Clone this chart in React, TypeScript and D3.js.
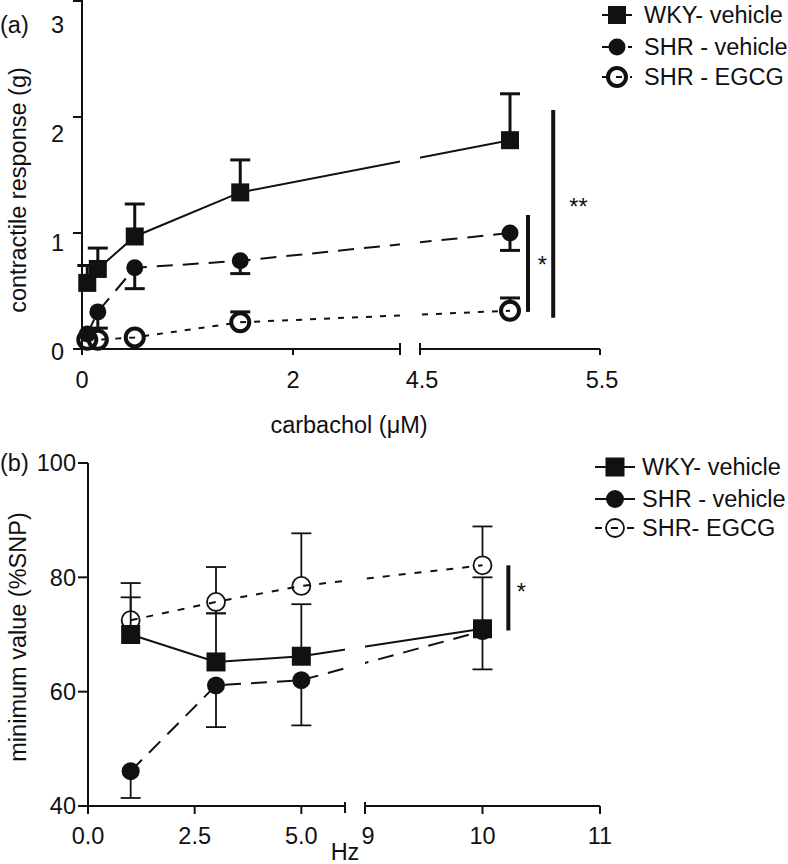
import React from "react";
import * as d3 from "d3";

const W = 788;
const H = 864;
const FONT = "'Liberation Sans', Arial, Helvetica, sans-serif";
const FS = 23.5;

// ---- panel (a): carbachol concentration-response ----
const carbachol = [0.05, 0.15, 0.5, 1.5, 5.0];
const wkyA = [0.57, 0.69, 0.97, 1.35, 1.8];
const wkyAUp = [0.15, 0.18, 0.28, 0.28, 0.4];
const shrA = [0.13, 0.32, 0.7, 0.76, 1.0];
const shrADown = [0, 0.14, 0.18, 0.11, 0.15];
const egcgA = [0.08, 0.08, 0.1, 0.23, 0.33];
const egcgAUp = [0, 0, 0, 0.09, 0.11];
const yTicksA = [0, 1, 2, 3];
const xTicksA = [0, 2, 4.5, 5.5];
const legendA = ["WKY- vehicle", "SHR - vehicle", "SHR - EGCG"];

// ---- panel (b): frequency response ----
const hz = [1, 3, 5, 10];
const wkyB = [70, 65.2, 66.2, 71];
const wkyBUp = [9, 8.5, 9.1, 9];
const wkyBDown = [0, 0, 0, 7.1];
const shrB = [46.1, 61.1, 62.0, 70.6];
const shrBDown = [4.7, 7.3, 7.9, 0];
const egcgB = [72.5, 75.7, 78.5, 82.1];
const egcgBUp = [4, 6.1, 9.2, 6.8];
const egcgBDown = [0, 2, 0, 0];
const yTicksB = [40, 60, 80, 100];
const xTicksB = [0, 2.5, 5, 9, 10, 11];
const legendB = ["WKY- vehicle", "SHR - vehicle", "SHR- EGCG"];

const zeros = (n: number) => new Array(n).fill(0);

// scale with a gap in the x axis
function broken(lo: number[], loR: number[], hi: number[], hiR: number[]) {
  const a = d3.scaleLinear().domain(lo).range(loR);
  const b = d3.scaleLinear().domain(hi).range(hiR);
  return (v: number) => (v <= lo[1] ? a(v) : b(v));
}

// panel (a) scales
const xA = broken([0, 3], [82, 398.5], [4.5, 5.5], [420, 600]);
const yA = d3.scaleLinear().domain([0, 3]).range([349, 1]);
const yLabA = d3.scaleLinear().domain([0, 3]).range([352, 25]);

// panel (b) scales
const xB = broken([0, 6], [88, 344], [9, 11], [365, 600]);
const yB = d3.scaleLinear().domain([40, 100]).range([806, 463]);

type Marker = "square" | "filled" | "open";

function Mark({ type, x, y, size, sw }: { type: Marker; x: number; y: number; size: number; sw: number }) {
  if (type === "square")
    return <rect x={x - size} y={y - size} width={size * 2} height={size * 2} fill="#111" />;
  if (type === "filled") return <circle cx={x} cy={y} r={size} fill="#111" />;
  return <circle cx={x} cy={y} r={size} fill="none" stroke="#111" strokeWidth={sw} />;
}

type Series = {
  vals: number[];
  up: number[];
  down: number[];
  marker: Marker;
  dash?: string;
};

function Panel(props: {
  id: string;
  xs: number[];
  series: Series[];
  x: (v: number) => number;
  y: d3.ScaleLinear<number, number>;
  gap: number[];
  lineW: number;
  barW: number;
  markSize: Record<Marker, number>;
  openSW: number;
}) {
  const { id, xs, series, x, y, gap, lineW, barW, markSize, openSW } = props;
  const line = d3
    .line<number>()
    .x((_, i) => x(xs[i]))
    .y((d) => y(d));
  return (
    <g>
      <clipPath id={id}>
        <rect x={0} y={0} width={gap[0]} height={H} />
        <rect x={gap[1]} y={0} width={W - gap[1]} height={H} />
      </clipPath>
      <g clipPath={`url(#${id})`}>
        {series.map((s, k) => (
          <path key={k} d={line(s.vals) || ""} fill="none" stroke="#111" strokeWidth={lineW} strokeDasharray={s.dash} />
        ))}
      </g>
      {series.map((s, k) =>
        s.vals.map((v, i) => {
          const px = x(xs[i]);
          const edge = s.marker === "open" ? markSize.open : 0;
          const out: any[] = [];
          if (s.up[i] > 0) {
            const t = y(v + s.up[i]);
            out.push(<line key={`u${i}`} x1={px} x2={px} y1={y(v) - edge} y2={t} stroke="#111" strokeWidth={barW} />);
            out.push(<line key={`uc${i}`} x1={px - 10} x2={px + 10} y1={t} y2={t} stroke="#111" strokeWidth={barW} />);
          }
          if (s.down[i] > 0) {
            const b = y(v - s.down[i]);
            out.push(<line key={`d${i}`} x1={px} x2={px} y1={y(v) + edge} y2={b} stroke="#111" strokeWidth={barW} />);
            out.push(<line key={`dc${i}`} x1={px - 10} x2={px + 10} y1={b} y2={b} stroke="#111" strokeWidth={barW} />);
          }
          return <g key={`e${k}-${i}`}>{out}</g>;
        })
      )}
      {series.map((s, k) =>
        s.vals.map((v, i) => (
          <Mark key={`m${k}-${i}`} type={s.marker} x={x(xs[i])} y={y(v)} size={markSize[s.marker]} sw={openSW} />
        ))
      )}
    </g>
  );
}

function Legend(props: {
  labels: string[];
  series: Series[];
  x0: number;
  x1: number;
  tx: number;
  ys: number[];
  lineW: number;
  markSize: Record<Marker, number>;
  openSW: number;
}) {
  const { labels, series, x0, x1, tx, ys, lineW, markSize, openSW } = props;
  return (
    <g>
      {labels.map((lab, i) => (
        <g key={lab}>
          <line x1={x0} x2={x1} y1={ys[i]} y2={ys[i]} stroke="#111" strokeWidth={lineW} strokeDasharray={series[i].dash} />
          <Mark type={series[i].marker} x={(x0 + x1) / 2} y={ys[i]} size={markSize[series[i].marker]} sw={openSW} />
          <text x={tx} y={ys[i]} dy="0.35em" fontSize={FS} fill="#111">
            {lab}
          </text>
        </g>
      ))}
    </g>
  );
}

export default function App() {
  const seriesA: Series[] = [
    { vals: wkyA, up: wkyAUp, down: zeros(5), marker: "square" },
    { vals: shrA, up: zeros(5), down: shrADown, marker: "filled", dash: "16,10" },
    { vals: egcgA, up: egcgAUp, down: zeros(5), marker: "open", dash: "6,8" },
  ];
  const seriesB: Series[] = [
    { vals: wkyB, up: wkyBUp, down: wkyBDown, marker: "square" },
    { vals: shrB, up: zeros(4), down: shrBDown, marker: "filled", dash: "16,10" },
    { vals: egcgB, up: egcgBUp, down: egcgBDown, marker: "open", dash: "7,9" },
  ];
  const sizeA = { square: 9, filled: 8.5, open: 9 };
  const sizeB = { square: 9.5, filled: 9, open: 9 };
  const fmtB = (v: number) => (v < 6 ? d3.format(".1f")(v) : String(v));

  return (
    <svg width={W} height={H} style={{ position: "absolute", left: 0, top: 0, background: "#fff" }} fontFamily={FONT}>
      {/* ================= panel (a) ================= */}
      <text x={0} y={25} dy="0.35em" fontSize={FS} fill="#111">(a)</text>
      <text transform={`translate(18,190) rotate(-90)`} textAnchor="middle" dy="0.35em" fontSize={FS} fill="#111">
        contractile response (g)
      </text>
      {/* y axis */}
      <line x1={82} x2={82} y1={yA(3) - 1} y2={yA(0)} stroke="#111" strokeWidth={2} />
      {yTicksA.map((t) => (
        <g key={t}>
          <line x1={73} x2={82} y1={yA(t)} y2={yA(t)} stroke="#111" strokeWidth={2} />
          <text x={64} y={yLabA(t)} dy="0.35em" textAnchor="end" fontSize={FS} fill="#111">{t}</text>
        </g>
      ))}
      {/* x axis with break */}
      <line x1={82} x2={400} y1={yA(0)} y2={yA(0)} stroke="#111" strokeWidth={2} />
      <line x1={420} x2={600} y1={yA(0)} y2={yA(0)} stroke="#111" strokeWidth={2} />
      <line x1={400} x2={400} y1={yA(0) - 6} y2={yA(0) + 6} stroke="#111" strokeWidth={2} />
      <line x1={420} x2={420} y1={yA(0) - 6} y2={yA(0) + 6} stroke="#111" strokeWidth={2} />
      {xTicksA.map((t) => (
        <g key={t}>
          <line x1={xA(t)} x2={xA(t)} y1={yA(0)} y2={yA(0) + 6} stroke="#111" strokeWidth={2} />
          <text x={xA(t) + (t > 3 ? 2 : 0)} y={380} dy="0.35em" textAnchor="middle" fontSize={FS} fill="#111">{t}</text>
        </g>
      ))}
      <text x={349} y={425} dy="0.35em" textAnchor="middle" fontSize={FS} fill="#111">carbachol (μM)</text>

      <Panel id="clipA" xs={carbachol} series={seriesA} x={xA} y={yA} gap={[400, 420]} lineW={2} barW={3} markSize={sizeA} openSW={4} />

      {/* significance */}
      <line x1={xA(5.1)} x2={xA(5.1)} y1={yA(1.155)} y2={yA(0.32)} stroke="#111" strokeWidth={4} />
      <text x={xA(5.18)} y={yA(0.78)} dy="0.6em" textAnchor="middle" fontSize={FS} fill="#111">*</text>
      <line x1={xA(5.24)} x2={xA(5.24)} y1={yA(2.06)} y2={yA(0.27)} stroke="#111" strokeWidth={4} />
      <text x={xA(5.38)} y={yA(1.28)} dy="0.6em" textAnchor="middle" fontSize={FS} fill="#111">**</text>

      <Legend labels={legendA} series={seriesA} x0={602} x1={632} tx={644} ys={[15, 47, 77]} lineW={2} markSize={sizeA} openSW={4} />

      {/* ================= panel (b) ================= */}
      <text x={0} y={463} dy="0.35em" fontSize={FS} fill="#111">(b)</text>
      <text transform={`translate(18,637) rotate(-90)`} textAnchor="middle" dy="0.35em" fontSize={FS} fill="#111">
        minimum value (%SNP)
      </text>
      <line x1={88} x2={88} y1={yB(100)} y2={yB(40)} stroke="#111" strokeWidth={2} />
      {yTicksB.map((t) => (
        <g key={t}>
          <line x1={78} x2={88} y1={yB(t)} y2={yB(t)} stroke="#111" strokeWidth={2} />
          <text x={76} y={yB(t)} dy="0.35em" textAnchor="end" fontSize={FS} fill="#111">{t}</text>
        </g>
      ))}
      <line x1={88} x2={345} y1={yB(40)} y2={yB(40)} stroke="#111" strokeWidth={2} />
      <line x1={365} x2={600} y1={yB(40)} y2={yB(40)} stroke="#111" strokeWidth={2} />
      <line x1={345} x2={345} y1={yB(40) - 4} y2={yB(40) + 7} stroke="#111" strokeWidth={2} />
      <line x1={365} x2={365} y1={yB(40) - 4} y2={yB(40) + 7} stroke="#111" strokeWidth={2} />
      {xTicksB.map((t) => (
        <g key={t}>
          <line x1={xB(t)} x2={xB(t)} y1={yB(40)} y2={yB(40) + 8} stroke="#111" strokeWidth={2} />
          <text x={xB(t) + (t === 9 ? 3 : 0)} y={836} dy="0.35em" textAnchor="middle" fontSize={FS} fill="#111">{fmtB(t)}</text>
        </g>
      ))}
      <text x={345} y={852} dy="0.35em" textAnchor="middle" fontSize={FS} fill="#111">Hz</text>

      <Panel id="clipB" xs={hz} series={seriesB} x={xB} y={yB} gap={[345, 365]} lineW={2} barW={1.8} markSize={sizeB} openSW={1.8} />

      <line x1={xB(10.22)} x2={xB(10.22)} y1={yB(82.1)} y2={yB(70.7)} stroke="#111" strokeWidth={4} />
      <text x={xB(10.33)} y={yB(78.5)} dy="0.6em" textAnchor="middle" fontSize={FS} fill="#111">*</text>

      <Legend labels={legendB} series={seriesB} x0={595} x1={635} tx={642} ys={[467, 499, 528]} lineW={1.8} markSize={sizeB} openSW={1.8} />
    </svg>
  );
}
